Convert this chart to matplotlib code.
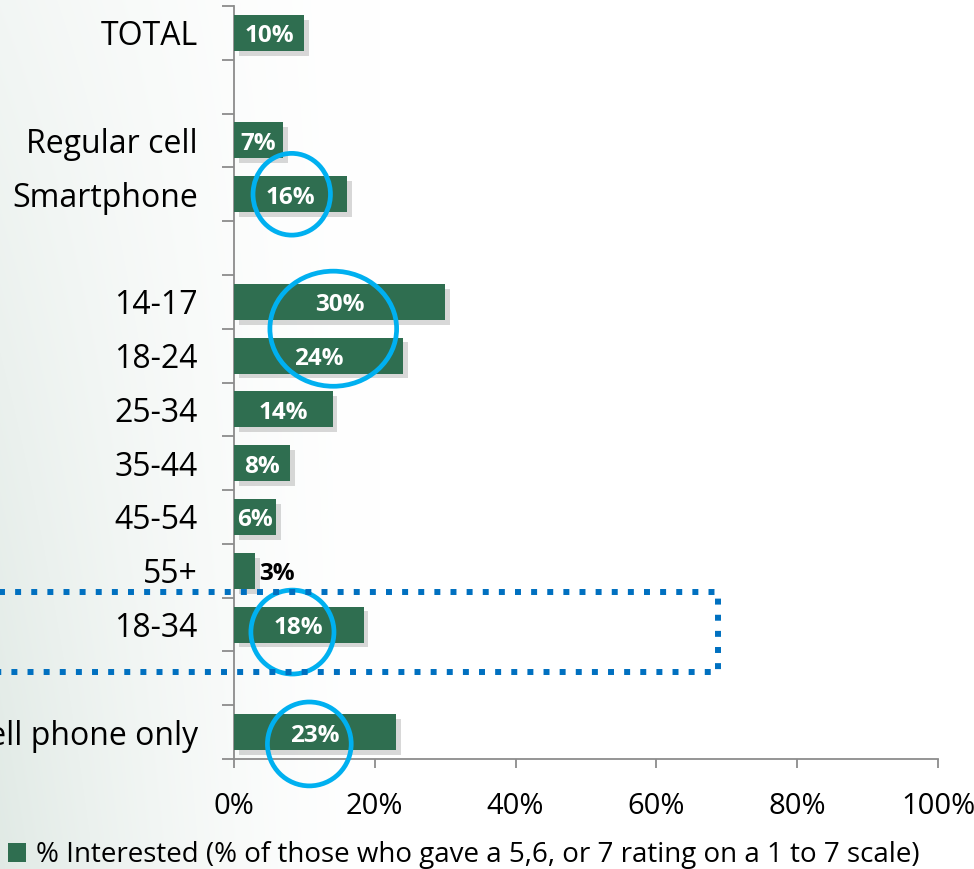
import numpy as np
import matplotlib
matplotlib.use("Agg")
import matplotlib.pyplot as plt
from matplotlib.patches import Ellipse, Patch
from matplotlib import patheffects as pe

# ---- data ----
categories = ["TOTAL", "", "Regular cell", "Smartphone", "", "14-17", "18-24",
              "25-34", "35-44", "45-54", "55+", "18-34", "", "Cell phone only"]
values = [10, np.nan, 7, 16, np.nan, 30, 24, 14, 8, 6, 3, 18.4, np.nan, 23]
value_labels = ["10%", "", "7%", "16%", "", "30%", "24%", "14%", "8%", "6%",
                "3%", "18%", "", "23%"]
x_ticks = [0, 20, 40, 60, 80, 100]
x_tick_labels = ["0%", "20%", "40%", "60%", "80%", "100%"]
legend_label = "% Interested (% of those who gave a 5,6, or 7 rating on a 1 to 7 scale)"

# highlight circles: (category row centre, x centre %, width %, height in rows)
circles = [(3.0, 8.2, 11.0, 1.52), (5.5, 14.1, 18.0, 2.14),
           (11.14, 8.3, 11.8, 1.56), (13.22, 10.7, 11.9, 1.56)]

BAR = "#2F6E50"
FONT = "Open Sans"
plt.rcParams['font.family'] = [FONT, 'DejaVu Sans']

W, H = 974, 869
fig = plt.figure(figsize=(W / 100, H / 100), dpi=100)

# background gradient
bg = fig.add_axes([0, 0, 1, 1], zorder=-10)
xx = np.linspace(0, 1, W)[None, :]
yy = np.linspace(0, 1, H)[:, None]
t = np.clip(1 - xx * W / 380, 0, 1) ** 1.5
depth = 0.05 + 0.07 * yy
img = np.ones((H, W, 3))
tint = np.array([1.0, 0.7, 0.85])
img = img - (t * depth)[..., None] * tint[None, None, :]
bg.imshow(img, aspect='auto', extent=[0, 1, 0, 1], origin='upper')
bg.axis('off')

ax = fig.add_axes([234 / W, 1 - 759 / H, (938 - 234) / W, (759 - 6) / H])
ax.patch.set_alpha(0)

y = np.arange(len(categories))
bars = ax.barh(y, values, height=0.67, color=BAR, zorder=3)
for b in bars:
    b.set_path_effects([pe.SimplePatchShadow(offset=(3.5, -3.5), shadow_rgbFace='0.5', alpha=0.3),
                        pe.Normal()])

for yi, v, lab in zip(y, values, value_labels):
    if not lab or np.isnan(v):
        continue
    if v < 5:
        ax.annotate(lab, (v, yi), xytext=(3, -2.5), textcoords='offset points',
                    ha='left', va='center', color='black',
                    fontsize=17.5, fontweight='bold', zorder=5)
    else:
        ax.annotate(lab, (v / 2, yi), xytext=(0, -2.5), textcoords='offset points',
                    ha='center', va='center', color='white',
                    fontsize=17.5, fontweight='bold', zorder=5)

ax.set_xlim(0, 100)
ax.set_ylim(len(categories) - 0.5, -0.5)
ax.set_xticks(x_ticks)
ax.set_xticklabels(x_tick_labels, fontsize=21)
ax.set_yticks(y)
ax.set_yticklabels(categories, fontsize=23)
ax.set_yticks(np.arange(-0.5, len(categories), 1.0), minor=True)
ax.tick_params(axis='y', which='major', length=0, pad=26)
ax.tick_params(axis='y', which='minor', length=8.5, width=1.3, color='#8C8C8C', direction='out')
ax.tick_params(axis='x', which='major', length=6.5, width=1.3, color='#8C8C8C', direction='out', pad=17)
for s in ['top', 'right']:
    ax.spines[s].set_visible(False)
for s in ['left', 'bottom']:
    ax.spines[s].set_color('#8C8C8C')
    ax.spines[s].set_linewidth(1.3)

# highlight circles
for cy, cx, w, h in circles:
    ax.add_patch(Ellipse((cx, cy), w, h, fill=False, edgecolor='#00B0F0',
                         linewidth=3.4, zorder=6, clip_on=False))

# dotted box around 18-34
rx0, rx1 = -40, 68.7
ry0, ry1 = 10.39, 11.88
ax.plot([rx0, rx1, rx1, rx0], [ry0, ry0, ry1, ry1], color='#0070C0',
        linewidth=4.3, dashes=(1, 1.7), dash_capstyle='butt', zorder=7, clip_on=False)

fig.legend(handles=[Patch(facecolor=BAR, edgecolor='none', label=legend_label)],
           loc='center left', bbox_to_anchor=(8 / W, 1 - 855 / H), frameon=False,
           fontsize=20, handlelength=0.65, handleheight=0.65, handletextpad=0.35,
           borderpad=0, borderaxespad=0)

fig.savefig("out.png", dpi=100)
